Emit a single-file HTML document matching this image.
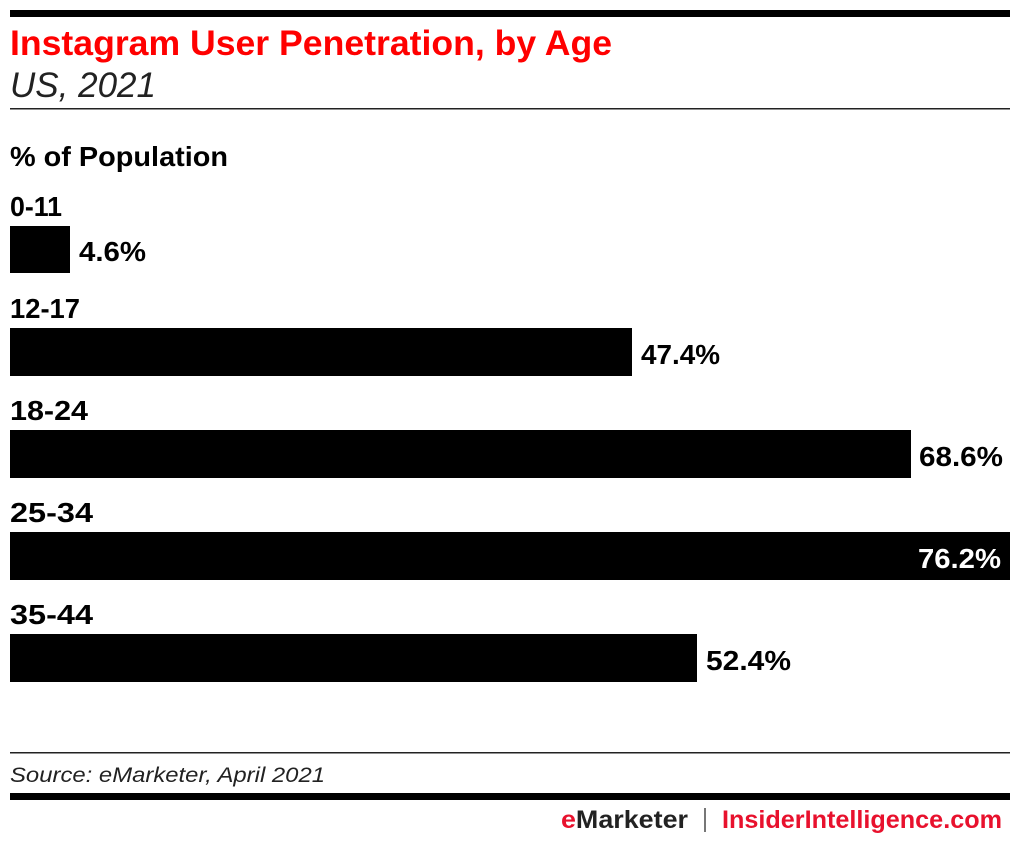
<!DOCTYPE html>
<html><head><meta charset="utf-8"><style>
html,body{margin:0;padding:0;background:#fff;width:1020px;height:854px;overflow:hidden}
svg text{font-family:"Liberation Sans",sans-serif}
</style></head><body>
<svg width="1020" height="854" xmlns="http://www.w3.org/2000/svg">
<rect x="10" y="10" width="1000" height="7" fill="#000"/>
<text x="10" y="55" font-size="35" font-weight="bold" fill="#f00" textLength="602" lengthAdjust="spacingAndGlyphs">Instagram User Penetration, by Age</text>
<text x="10" y="97" font-size="35" font-style="italic" fill="#222" textLength="146" lengthAdjust="spacingAndGlyphs">US, 2021</text>
<rect x="10" y="108" width="1000" height="1.5" fill="#222"/>
<text x="10" y="166" font-size="28" font-weight="bold" fill="#000" textLength="218" lengthAdjust="spacingAndGlyphs">% of Population</text>
<g font-size="28" font-weight="bold" fill="#000">
<text x="10" y="216" textLength="52" lengthAdjust="spacingAndGlyphs">0-11</text>
<text x="10" y="318" textLength="70" lengthAdjust="spacingAndGlyphs">12-17</text>
<text x="10" y="420" textLength="78" lengthAdjust="spacingAndGlyphs">18-24</text>
<text x="10" y="522" textLength="83" lengthAdjust="spacingAndGlyphs">25-34</text>
<text x="10" y="624" textLength="83" lengthAdjust="spacingAndGlyphs">35-44</text>
</g>
<rect x="10" y="226" width="60" height="47" fill="#000"/>
<rect x="10" y="328" width="622" height="48" fill="#000"/>
<rect x="10" y="430" width="901" height="48" fill="#000"/>
<rect x="10" y="532" width="1000" height="48" fill="#000"/>
<rect x="10" y="634" width="687" height="48" fill="#000"/>
<g font-size="28" font-weight="bold" fill="#000">
<text x="79" y="261" textLength="67" lengthAdjust="spacingAndGlyphs">4.6%</text>
<text x="641" y="364" textLength="79" lengthAdjust="spacingAndGlyphs">47.4%</text>
<text x="919" y="466" textLength="84" lengthAdjust="spacingAndGlyphs">68.6%</text>
<text x="918" y="568" textLength="83" lengthAdjust="spacingAndGlyphs" fill="#fff">76.2%</text>
<text x="706" y="670" textLength="85" lengthAdjust="spacingAndGlyphs">52.4%</text>
</g>
<rect x="10" y="752" width="1000" height="1.5" fill="#222"/>
<text x="10" y="782" font-size="21" font-style="italic" fill="#222" textLength="315" lengthAdjust="spacingAndGlyphs">Source: eMarketer, April 2021</text>
<rect x="10" y="793" width="1000" height="7" fill="#000"/>
<text x="561" y="828" font-size="25" font-weight="bold" fill="#222" textLength="127" lengthAdjust="spacingAndGlyphs"><tspan fill="#e8112d">e</tspan>Marketer</text>
<rect x="704" y="808" width="2" height="24" fill="#777"/>
<text x="722" y="828" font-size="25" font-weight="bold" fill="#e8112d" textLength="280" lengthAdjust="spacingAndGlyphs">InsiderIntelligence.com</text>
</svg>
</body></html>
